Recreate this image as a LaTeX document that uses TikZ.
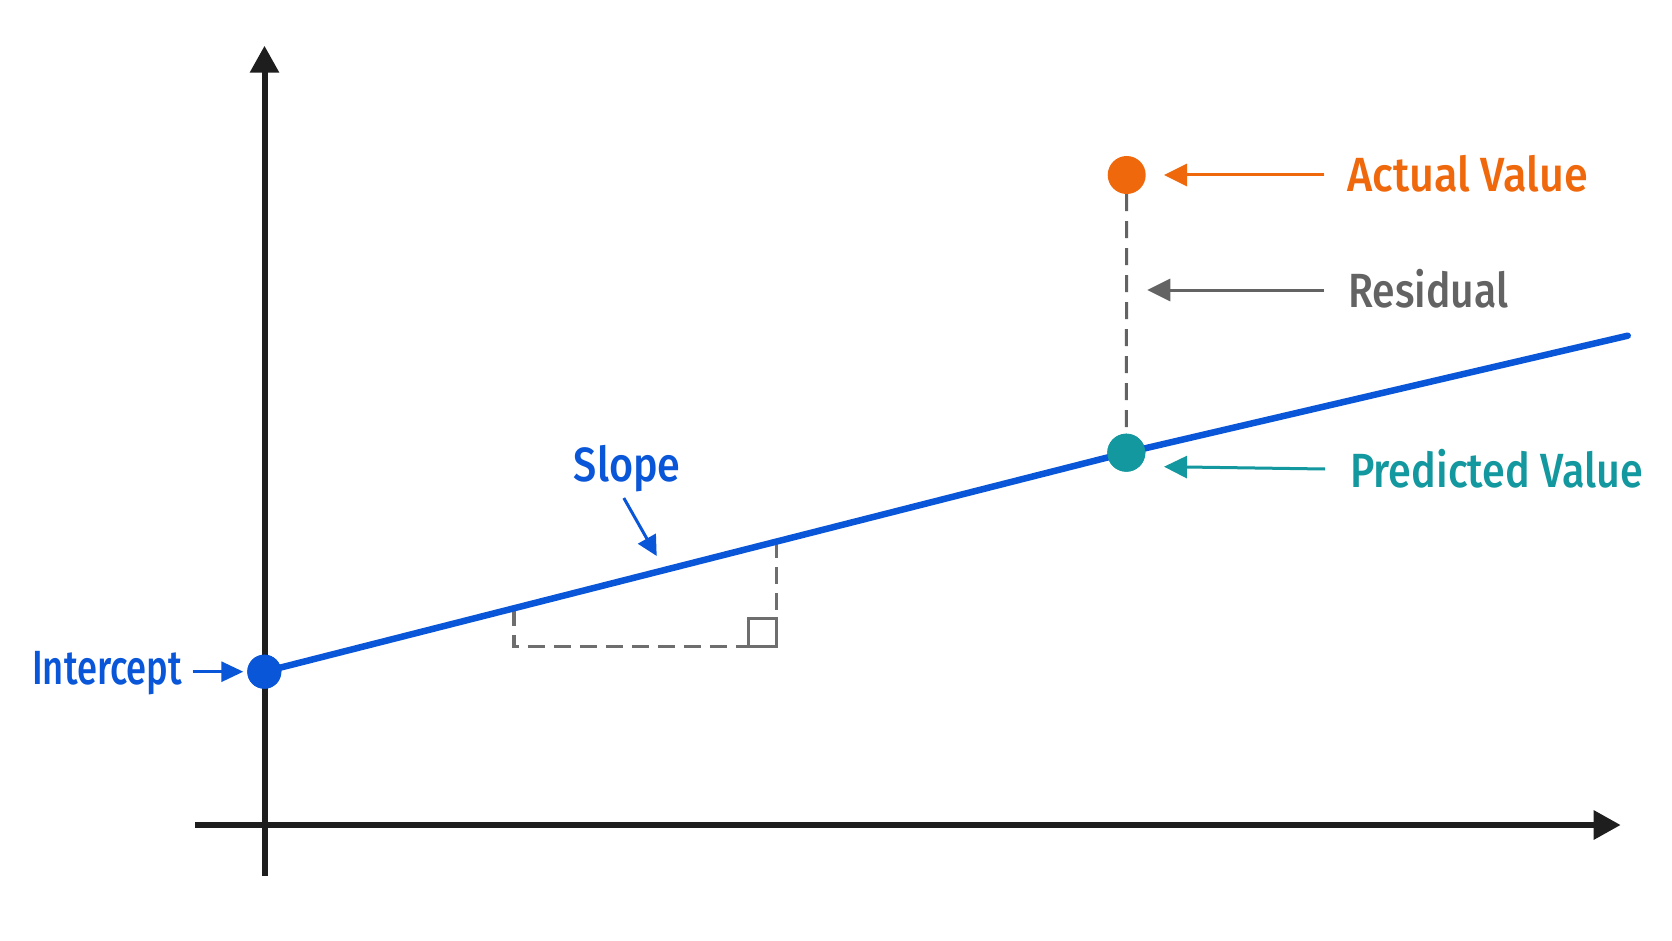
\documentclass[tikz,border=0pt]{standalone}
\usepackage{fontspec}
\usepackage{graphicx}
\setmainfont{Fira Sans Medium}
\usetikzlibrary{arrows.meta}
\definecolor{rblue}{HTML}{0A56D8}
\definecolor{rorange}{HTML}{F0680C}
\definecolor{rteal}{HTML}{12989E}
\definecolor{rgray}{HTML}{636363}
\definecolor{rdash}{HTML}{6E6E6E}
\definecolor{raxis}{HTML}{1E1E1E}
\newsavebox\lblbox
\newcommand\fitw[2]{\sbox\lblbox{#2}\pgfmathsetmacro\fitratio{#1/\wd\lblbox}\scalebox{\fitratio}[1]{\usebox\lblbox}}
\tikzset{
  axisline/.style={draw=raxis, line width=6pt, -{Triangle[length=27pt,width=28pt]}},
  regline/.style={draw=rblue, line width=6.5pt, line cap=round},
  dot/.style={circle, inner sep=0pt, minimum size=#1},
  pointer/.style={line width=3pt, -{Triangle[length=23pt,width=22pt]}},
  dashedguide/.style={draw=rdash, line width=3.2pt, dash pattern=on 17pt off 9pt},
  lbl/.style={inner sep=0pt, anchor=base west, font=\fontsize{48}{56}\selectfont},
}
\begin{document}
\begin{tikzpicture}[x=1pt,y=-1pt]
\useasboundingbox[fill=white] (0,0) rectangle (1672,941);
% axes
\coordinate (yb) at (264.5,876);
\coordinate (yt) at (264.5,45.7);
\coordinate (xl) at (195,825);
\coordinate (xr) at (1620.7,825);
\draw[axisline] (yb) -- (yt);
\draw[axisline] (xl) -- (xr);
% slope triangle
\coordinate (tl) at (514,608.6);
\coordinate (tbl) at (514,646.7);
\coordinate (tbr) at (776.7,646.7);
\coordinate (tr) at (776.7,541.8);
\draw[dashedguide] (tl) -- (tbl) -- (tbr) -- (tr);
\draw[draw=rdash, line width=3.2pt] (748.7,618.3) rectangle (776.7,646.7);
% dots
\node[dot=34pt, fill=rblue] (icpt) at (264.3,671.7) {};
\node[dot=38pt, fill=rteal] (pred) at (1126.3,452.7) {};
\node[dot=38pt, fill=rorange] (actual) at (1126.7,175) {};
% residual
\draw[draw=rgray, line width=3pt, dash pattern=on 17pt off 10pt] (actual.south) -- (pred.north);
% regression line
\coordinate (lend) at (1627.7,335.7);
\draw[regline] (icpt.center) -- (pred.center) -- (lend);
\node[dot=34pt, fill=rblue] at (icpt) {};
\node[dot=38pt, fill=rteal] at (pred) {};
% labels
\node[lbl, text=rorange] (lactual) at (1347,191.7) {\fitw{241}{Actual Value}};
\node[lbl, text=rgray] (lresid) at (1348,307.3) {\fitw{160}{Residual}};
\node[lbl, text=rteal] (lpred) at (1350,487.7) {\fitw{293}{Predicted Value}};
\node[lbl, text=rblue] (lslope) at (573.7,481) {\fitw{106.6}{Slope}};
\node[lbl, text=rblue] (licpt) at (32,684) {\fitw{150}{Intercept}};
% pointers
\coordinate (aa) at (1324.3,175);
\coordinate (ab) at (1164,175);
\draw[pointer, draw=rorange, fill=rorange] (aa) -- (ab);
\coordinate (ra) at (1324,290);
\coordinate (rb) at (1147.3,290);
\draw[pointer, draw=rgray, fill=rgray] (ra) -- (rb);
\coordinate (pa) at (1325,469);
\coordinate (pb) at (1164,466.7);
\draw[pointer, draw=rteal, fill=rteal] (pa) -- (pb);
\coordinate (sa) at (623.8,498);
\coordinate (sb) at (656.7,556);
\draw[draw=rblue, fill=rblue, line width=3pt, -{Triangle[length=20pt,width=20pt]}] (sa) -- (sb);
\coordinate (ia) at (192.7,671.7);
\coordinate (ib) at (243.3,671.7);
\draw[draw=rblue, fill=rblue, line width=3pt, -{Triangle[length=22pt,width=20pt]}] (ia) -- (ib);
\end{tikzpicture}
\end{document}
